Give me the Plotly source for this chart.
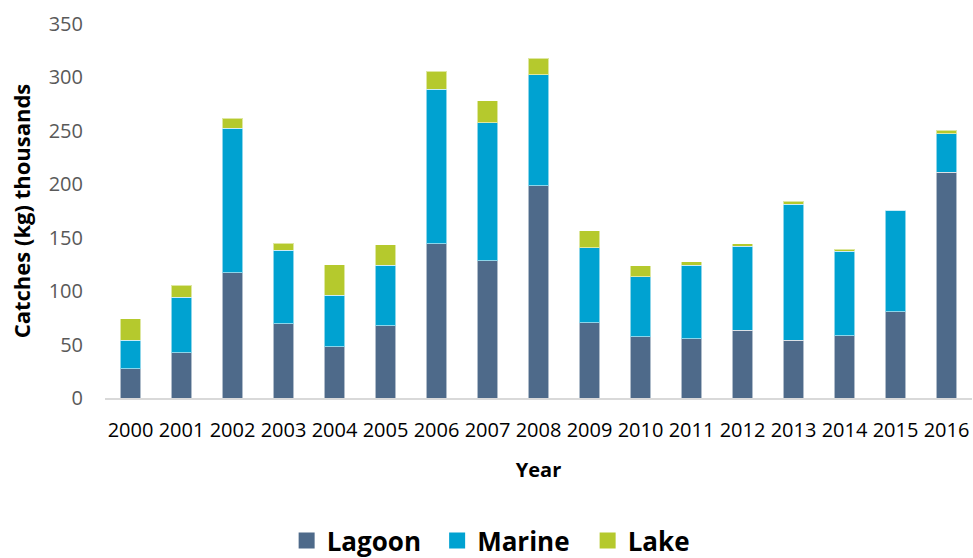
import plotly.graph_objects as go

years = [str(y) for y in range(2000, 2017)]
lagoon = [27.6, 42.2, 117.0, 69.6, 48.0, 67.5, 144.4, 128.5, 198.6, 70.3, 57.2, 55.3, 63.4, 54.0, 58.4, 80.6, 211.4]
marine = [26.4, 52.0, 135.5, 68.9, 48.2, 56.6, 144.6, 129.3, 104.0, 70.1, 56.1, 68.8, 78.5, 127.1, 78.8, 94.9, 36.1]
lake = [20.3, 11.2, 9.4, 6.5, 28.3, 19.4, 17.0, 20.2, 15.4, 15.9, 10.3, 3.2, 2.5, 3.2, 2.2, 0.9, 3.1]
y_ticks = [0, 50, 100, 150, 200, 250, 300, 350]

series = [("Lagoon", lagoon, "#4E6A8A"), ("Marine", marine, "#00A2D1"), ("Lake", lake, "#B5C92D")]

fig = go.Figure()
for name, vals, col in series:
    fig.add_trace(go.Bar(
        x=years, y=vals, name=name, showlegend=False,
        marker=dict(color=col, line=dict(color="rgba(255,255,255,0.55)", width=1)),
    ))
# legend entries with larger square swatches
for name, vals, col in series:
    fig.add_trace(go.Scatter(
        x=[None], y=[None], name=name, mode="markers",
        marker=dict(symbol="square", size=17, color=col),
    ))

fig.update_layout(
    barmode="stack",
    bargap=0.6,
    width=973, height=558,
    margin=dict(l=105, r=1, t=24, b=160),
    plot_bgcolor="white", paper_bgcolor="white",
    font=dict(family="Open Sans", color="#595959", size=20),
    legend=dict(
        orientation="h", traceorder="normal",
        xref="paper", x=0.2095, xanchor="left",
        yref="container", y=0.031, yanchor="middle",
        font=dict(family="Open Sans", size=26, color="black", weight="bold"),
        itemsizing="trace", itemwidth=30,
        entrywidth=105.5, entrywidthmode="pixels",
    ),
    showlegend=True,
)
fig.update_xaxes(
    type="category", automargin=False,
    showline=True, linecolor="#D9D9D9", linewidth=2,
    showgrid=False, zeroline=False,
    ticks="outside", ticklen=13, tickcolor="rgba(0,0,0,0)",
    tickfont=dict(family="Open Sans", size=20, color="black"),
    title=dict(text="Year", font=dict(family="Open Sans", size=20, color="black", weight="bold"), standoff=21),
)
fig.update_yaxes(
    range=[0, 350], tickvals=y_ticks, automargin=False,
    showline=False, showgrid=False, zeroline=False,
    ticks="outside", ticklen=17, tickcolor="rgba(0,0,0,0)",
    tickfont=dict(family="Open Sans", size=20, color="#595959"),
    title=dict(text="Catches (kg) thousands", font=dict(family="Open Sans", size=22, color="black", weight="bold"), standoff=11),
)

fig.write_html("out.html")
